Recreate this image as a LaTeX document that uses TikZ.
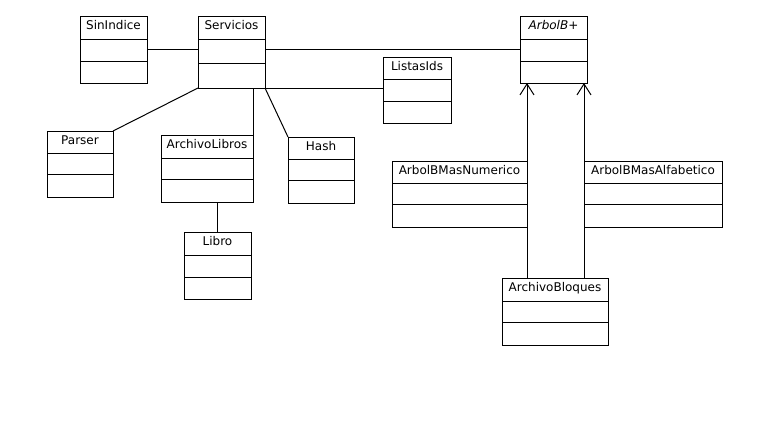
\documentclass[tikz,border=0pt]{standalone}
\usepackage{fontspec}
\setmainfont{DejaVu Sans}
\usetikzlibrary{arrows.meta}

% A UML class box: id, x1, y1, x2, y2, first divider, second divider, name
\newcommand{\umlclass}[8]{%
  \node[classbox, minimum width={(#4-#2)*1pt}, minimum height={(#5-#3)*1pt}]
    (#1) at ({(#2+#4)/2},{(#3+#5)/2}) {};
  \draw[classline] (#2,#6) -- (#4,#6);
  \draw[classline] (#2,#7) -- (#4,#7);
  \node[classname] (#1-name) at ({(#2+#4)/2},{#3+13}) {#8};
}

\begin{document}
\begin{tikzpicture}[x=1pt, y=-1pt,
  classbox/.style={draw=black, line width=1pt, fill=white, inner sep=0pt, outer sep=0pt},
  classline/.style={draw=black, line width=1pt},
  classname/.style={anchor=base, inner sep=0pt, font=\fontsize{12}{14}\selectfont},
  assoc/.style={draw=black, line width=1pt},
  inherit/.style={draw=black, line width=1pt, -{Straight Barb[length=11pt, width=14pt]}}]

  % canvas
  \fill[white] (0,0) rectangle (768,424);
  \useasboundingbox (0,0) rectangle (768,424);

  % classes
  \umlclass{sin}{80}{16}{147}{83}{39}{61}{SinIndice}
  \umlclass{serv}{198}{16}{265}{88}{39}{63}{Servicios}
  \umlclass{arbol}{520}{16}{587}{83}{39}{61}{\itshape ArbolB+}
  \umlclass{listas}{383}{57}{451}{123}{79}{101}{ListasIds}
  \umlclass{parser}{47}{131}{113}{197}{153}{174}{Parser}
  \umlclass{alibros}{161}{135}{253}{202}{158}{179}{ArchivoLibros}
  \umlclass{hash}{288}{137}{354}{203}{159}{180}{Hash}
  \umlclass{libro}{184}{232}{251}{299}{255}{277}{Libro}
  \umlclass{num}{392}{161}{527}{227}{183}{204}{ArbolBMasNumerico}
  \umlclass{alf}{584}{161}{722}{227}{183}{204}{ArbolBMasAlfabetico}
  \umlclass{bloques}{502}{278}{608}{345}{301}{322}{ArchivoBloques}

  % associations
  \draw[assoc] (sin.east) -- (sin.east -| serv.west);
  \draw[assoc] (arbol.west -| serv.east) -- (arbol.west);
  \draw[assoc] (serv.south east) -- (serv.south east -| listas.west);
  \draw[assoc] (serv.south west) -- (parser.north east);
  \draw[assoc] (alibros.north east |- serv.south) -- (alibros.north east);
  \draw[assoc] (serv.south east) -- (hash.north west);
  \draw[assoc] (libro.north |- alibros.south) -- (libro.north);

  % generalisations towards ArbolB+
  \draw[inherit] (bloques.north -| num.east) -- (arbol.south -| num.east);
  \draw[inherit] (bloques.north -| alf.west) -- (arbol.south -| alf.west);
\end{tikzpicture}
\end{document}
